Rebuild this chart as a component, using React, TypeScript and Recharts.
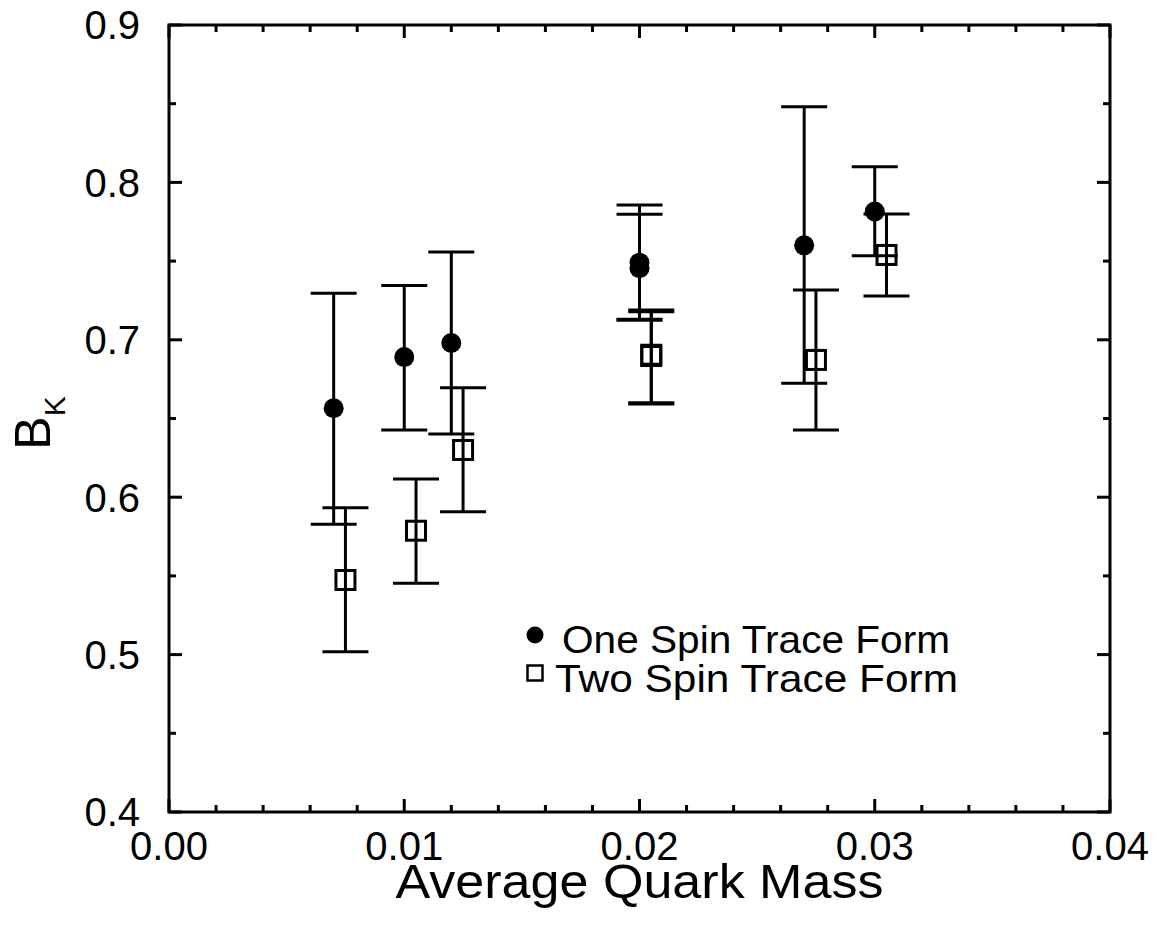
import React from 'react';
import { ScatterChart, Scatter, XAxis, YAxis, ErrorBar, ReferenceArea, Legend, Label } from 'recharts';

// One spin trace form (filled circles)
const oneSpinMass = [0.007, 0.010, 0.012, 0.020, 0.020, 0.027, 0.030];
const oneSpinBK = [0.6565, 0.689, 0.698, 0.749, 0.7455, 0.760, 0.7815];
const oneSpinHigh = [0.7295, 0.7345, 0.7558, 0.7857, 0.7797, 0.848, 0.810];
const oneSpinLow = [0.5828, 0.6427, 0.6402, 0.7124, 0.7130, 0.6724, 0.7534];

// Two spin trace form (open squares)
const twoSpinMass = [0.0075, 0.0105, 0.0125, 0.0205, 0.0205, 0.0275, 0.0305];
const twoSpinBK = [0.5474, 0.5787, 0.630, 0.6897, 0.6905, 0.6872, 0.7539];
const twoSpinHigh = [0.5933, 0.6116, 0.6696, 0.7189, 0.7178, 0.7316, 0.780];
const twoSpinLow = [0.5018, 0.5453, 0.5908, 0.6600, 0.6592, 0.6427, 0.7278];

const xMajorTicks = [0, 0.01, 0.02, 0.03, 0.04];
const xMajorLabels = ['0.00', '0.01', '0.02', '0.03', '0.04'];
const xMinorTicks = [
  0.002, 0.004, 0.006, 0.008, 0.012, 0.014, 0.016, 0.018,
  0.022, 0.024, 0.026, 0.028, 0.032, 0.034, 0.036, 0.038,
];
const yMajorTicks = [0.4, 0.5, 0.6, 0.7, 0.8, 0.9];
const yMajorLabels = ['0.4', '0.5', '0.6', '0.7', '0.8', '0.9'];
const yMinorTicks = [0.45, 0.55, 0.65, 0.75, 0.85];

const FONT = '"Liberation Sans", Arial, Helvetica, sans-serif';
const W = 1142;
const H = 915;
const PLOT_LEFT = 161;
const PLOT_RIGHT = 1102;
const PLOT_TOP = 17;
const PLOT_BOTTOM = 804;

// error is [below, above] for the asymmetric bars
const buildPoints = (xs: number[], ys: number[], lo: number[], hi: number[]) =>
  xs.map((x, i) => ({ x, y: ys[i], err: [ys[i] - lo[i], hi[i] - ys[i]] }));

const oneSpinData = buildPoints(oneSpinMass, oneSpinBK, oneSpinLow, oneSpinHigh);
const twoSpinData = buildPoints(twoSpinMass, twoSpinBK, twoSpinLow, twoSpinHigh);

const findMajor = (list: number[], v: number) => list.findIndex((t) => Math.abs(t - v) < 1e-9);

const XTick = (props: any) => {
  const { x, payload } = props;
  const i = findMajor(xMajorTicks, payload.value);
  const len = i >= 0 ? 13 : 7;
  return (
    <g>
      <line x1={x} x2={x} y1={PLOT_BOTTOM} y2={PLOT_BOTTOM - len} stroke="#000" strokeWidth={3} />
      <line x1={x} x2={x} y1={PLOT_TOP} y2={PLOT_TOP + len} stroke="#000" strokeWidth={3} />
      {i >= 0 && (
        <text x={x} y={PLOT_BOTTOM + 48} textAnchor="middle" fontSize={40} fill="#000" fontFamily={FONT}>
          {xMajorLabels[i]}
        </text>
      )}
    </g>
  );
};

const YTick = (props: any) => {
  const { y, payload } = props;
  const i = findMajor(yMajorTicks, payload.value);
  const len = i >= 0 ? 13 : 7;
  return (
    <g>
      <line x1={PLOT_LEFT} x2={PLOT_LEFT + len} y1={y} y2={y} stroke="#000" strokeWidth={3} />
      <line x1={PLOT_RIGHT} x2={PLOT_RIGHT - len} y1={y} y2={y} stroke="#000" strokeWidth={3} />
      {i >= 0 && (
        <text x={PLOT_LEFT - 29} y={y} dy="0.36em" textAnchor="end" fontSize={40} fill="#000" fontFamily={FONT}>
          {yMajorLabels[i]}
        </text>
      )}
    </g>
  );
};

const renderCircle = (p: any) => <circle cx={p.cx} cy={p.cy} r={10} fill="#000" />;
const renderSquare = (p: any) => (
  <rect x={p.cx - 9.5} y={p.cy - 9.5} width={19} height={19} fill="none" stroke="#000" strokeWidth={3} />
);

const LegendBox = () => (
  <svg width={470} height={100}>
    <circle cx={25} cy={25} r={8.5} fill="#000" />
    <text x={52} y={43} fontSize={39} fill="#000" fontFamily={FONT} textLength={388} lengthAdjust="spacingAndGlyphs">
      One Spin Trace Form
    </text>
    <rect x={17.5} y={55.5} width={15} height={15} fill="none" stroke="#000" strokeWidth={2.5} />
    <text x={45} y={82} fontSize={39} fill="#000" fontFamily={FONT} textLength={403} lengthAdjust="spacingAndGlyphs">
      Two Spin Trace Form
    </text>
  </svg>
);

export default function App() {
  return (
    <div style={{ width: W, height: H, background: '#fff' }}>
      <ScatterChart width={W} height={H} margin={{ top: PLOT_TOP, right: W - PLOT_RIGHT, left: 0, bottom: 0 }}>
        <XAxis
          type="number"
          dataKey="x"
          domain={[0, 0.04]}
          ticks={[...xMajorTicks, ...xMinorTicks].sort((a, b) => a - b)}
          interval={0}
          tick={XTick}
          tickLine={false}
          axisLine={false}
          tickSize={0}
          tickMargin={0}
          height={H - PLOT_BOTTOM}
          allowDataOverflow
        >
          <Label
            content={() => (
              <text
                x={(PLOT_LEFT + PLOT_RIGHT) / 2}
                y={PLOT_BOTTOM + 86}
                textAnchor="middle"
                fontSize={49}
                fill="#000"
                fontFamily={FONT}
                textLength={488}
                lengthAdjust="spacingAndGlyphs"
              >
                Average Quark Mass
              </text>
            )}
          />
        </XAxis>
        <YAxis
          type="number"
          dataKey="y"
          domain={[0.4, 0.9]}
          ticks={[...yMajorTicks, ...yMinorTicks].sort((a, b) => a - b)}
          interval={0}
          tick={YTick}
          tickLine={false}
          axisLine={false}
          tickSize={0}
          tickMargin={0}
          width={PLOT_LEFT}
          allowDataOverflow
        >
          <Label
            content={() => (
              <text x={42} y={415} transform="rotate(-90 42 415)" textAnchor="middle" fill="#000" fontFamily={FONT}>
                <tspan fontSize={50}>B</tspan>
                <tspan fontSize={30} dy={15}>K</tspan>
              </text>
            )}
          />
        </YAxis>
        <ReferenceArea x1={0} x2={0.04} y1={0.4} y2={0.9} fill="none" stroke="#000" strokeWidth={3} ifOverflow="visible" />
        <Scatter name="One Spin Trace Form" data={oneSpinData} shape={renderCircle} isAnimationActive={false}>
          <ErrorBar dataKey="err" direction="y" width={23} stroke="#000" strokeWidth={3} isAnimationActive={false} />
        </Scatter>
        <Scatter name="Two Spin Trace Form" data={twoSpinData} shape={renderSquare} isAnimationActive={false}>
          <ErrorBar dataKey="err" direction="y" width={23} stroke="#000" strokeWidth={3} isAnimationActive={false} />
        </Scatter>
        <Legend
          layout="horizontal"
          verticalAlign="middle"
          align="center"
          content={() => <LegendBox />}
          wrapperStyle={{ left: 502, top: 602, width: 470, height: 100 }}
        />
      </ScatterChart>
    </div>
  );
}
